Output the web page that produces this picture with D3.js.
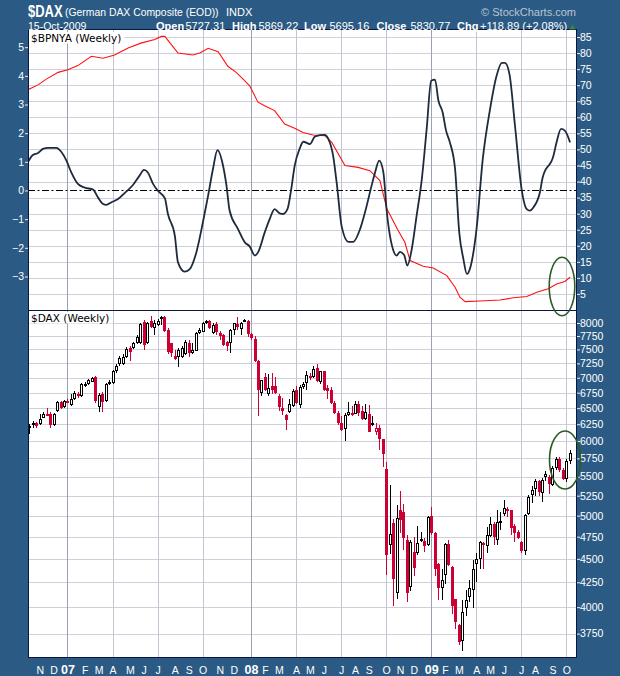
<!DOCTYPE html>
<html><head><meta charset="utf-8">
<script src="https://cdn.jsdelivr.net/npm/d3@7"></script>
<style>html,body{margin:0;padding:0;background:#2b5b84;} svg{display:block;}</style>
</head><body>
<svg id="c" width="620" height="676"></svg>
<script>
// ---------- DATA ----------
const firstWeek = new Date(2006, 9, 16); // Monday of first weekly bar
const opens = [6195,6235,6265,6260,6350,6410,6415,6235,6455,6595,
 6510,6620,6545,6640,6735,6695,6870,6890,6935,7010,
 6510,6730,6610,6915,6915,7110,7230,7240,7370,7530,
 7520,7620,7625,8025,7620,8045,7895,7960,8125,8115,
 7865,7625,7385,7370,7370,7420,7620,7435,7480,7800,
 7830,8005,8045,7800,7980,7815,7770,7640,7625,7865,
 7975,7880,8060,8040,7790,7690,7300,6745,7020,6735,
 6860,6860,6700,6500,6385,6440,6530,6800,6545,6840,
 6910,7035,7020,7165,6930,7110,6830,6800,6580,6425,
 6270,6180,6385,6430,6410,6570,6450,6325,6400,6265,
 6135,6200,6025,5600,4660,4910,4145,5075,5040,4710,
 4200,4575,4570,4725,4700,4660,5000,4790,4440,4190,
 4330,4665,4410,4080,3830,3680,3990,4100,4175,4440,
 4500,4655,4640,4760,4900,4715,4940,5015,5085,5065,
 4870,4800,4690,4585,5020,5265,5330,5445,5290,5490,
 5490,5390,5610,5740,5590,5470,5715];
const highs = [6260,6300,6280,6410,6440,6500,6440,6430,6620,6620,
 6630,6640,6720,6780,6760,6910,6930,6985,7020,7036,
 6745,6760,6915,6965,7130,7230,7390,7410,7550,7560,
 7640,7760,8005,8060,8025,8140,8060,8070,8140,8130,
 7900,7625,7490,7525,7560,7675,7675,7620,7830,7900,
 8025,8060,8060,7995,8025,7850,7790,7660,7880,8000,
 8120,8025,8075,8050,7805,7750,7310,6965,7080,7070,
 7080,7020,6720,6670,6400,6640,6815,6860,6880,6930,
 7110,7080,7200,7230,7120,7120,6880,6840,6610,6450,
 6380,6430,6590,6535,6620,6610,6535,6560,6545,6380,
 6265,6240,6030,5700,5390,4960,5130,5315,5150,4765,
 4710,4745,4875,4805,4730,5000,5110,4805,4450,4385,
 4680,4715,4420,4085,3835,4070,4175,4275,4490,4570,
 4695,4690,4865,4985,4920,5075,5045,5200,5110,5070,
 4905,4830,4700,5015,5260,5370,5465,5450,5480,5580,
 5515,5640,5770,5770,5620,5740,5869];
const lows = [6100,6200,6195,6240,6340,6375,6200,6225,6440,6480,
 6505,6580,6530,6630,6670,6680,6850,6880,6925,6580,
 6440,6440,6600,6880,6900,7090,7210,7220,7350,7300,
 7500,7600,7600,7490,7600,7900,7770,7940,7960,7830,
 7420,7370,7310,7190,7350,7400,7370,7420,7470,7780,
 7820,7990,7880,7780,7770,7675,7555,7470,7440,7770,
 7865,7770,8010,7735,7675,7280,6380,6690,6780,6690,
 6720,6720,6460,6390,6160,6430,6520,6560,6505,6810,
 6800,6965,7000,6920,6900,6775,6640,6560,6410,6240,
 6150,6000,6370,6370,6400,6370,6310,6310,6125,6230,
 6090,5870,5630,4330,4555,4010,4085,4790,4600,4050,
 4165,4315,4545,4690,4575,4640,4770,4315,4070,4070,
 4230,4420,3930,3790,3645,3595,3910,4055,3995,4250,
 4395,4390,4560,4745,4660,4660,4830,5000,4990,4775,
 4690,4720,4570,4545,5010,5160,5240,5240,5170,5440,
 5270,5370,5590,5560,5450,5430,5670];
const closes = [6230,6275,6230,6330,6410,6390,6245,6410,6600,6500,
 6615,6595,6640,6750,6690,6890,6900,6960,6995,6610,
 6715,6590,6900,6935,7110,7200,7350,7370,7510,7460,
 7615,7740,7980,7585,7995,7925,7995,8045,8095,7850,
 7445,7440,7325,7490,7525,7640,7430,7490,7800,7865,
 8005,8045,7895,7960,7830,7750,7585,7570,7865,7995,
 7925,7995,8030,7790,7710,7300,6800,6965,6800,6830,
 6800,6750,6520,6460,6320,6570,6775,6575,6840,6900,
 7050,7000,7150,6940,7110,6800,6775,6580,6425,6270,
 6160,6385,6440,6385,6570,6425,6325,6440,6135,6245,
 6200,6025,5810,4545,4780,4285,4975,4945,4735,4145,
 4690,4400,4675,4705,4640,4985,4790,4385,4195,4270,
 4670,4430,4010,3855,3675,3955,4070,4195,4385,4500,
 4685,4680,4775,4900,4745,4920,4925,5090,5065,4850,
 4790,4730,4590,5010,5230,5320,5440,5300,5460,5530,
 5400,5615,5740,5585,5470,5715,5830];

// oscillator (left axis) vertices: week index / value
const oscWeeks = [-0.4,1.0,2.5,3.9,5.4,7.8,9.2,10.7,12.1,14.0,16.0,18.4,19.8,21.3,22.2,23.7,25.6,27.5,29.9,31.8,33.1,34.2,35.7,37.1,39.1,40.0,42.0,42.9,44.8,46.3,48.2,50.1,51.6,53.0,54.3,55.9,56.9,57.8,60.2,62.2,63.6,65.1,66.0,67.9,69.4,70.8,72.3,73.2,74.5,75.6,76.6,78.0,79.1,81.0,82.5,85.3,86.3,87.7,88.7,90.2,92.1,93.5,95.5,96.9,98.8,99.8,101.0,102.2,103.2,105.1,106.0,107.0,108.2,109.1,110.4,111.8,113.3,114.7,116.0,117.1,118.1,119.3,120.3,121.4,122.9,124.1,125.3,126.3,127.4,129.1,130.9,133.0,134.9,136.4,137.3,138.6,140.2,142.1,143.6,144.5,145.5,147.4,148.2,151.3,152.2,153.5,154.6,156.1];
const oscValues = [1.00,1.24,1.31,1.45,1.49,1.49,1.35,1.04,0.63,0.23,0.10,0.03,-0.24,-0.47,-0.50,-0.41,-0.30,-0.09,0.19,0.52,0.72,0.63,0.23,-0.01,-0.27,-0.82,-1.58,-2.51,-2.83,-2.74,-2.16,-1.11,-0.18,0.75,1.41,0.87,0.17,-0.70,-1.34,-1.81,-1.95,-2.27,-2.16,-1.48,-0.99,-0.65,-0.80,-0.82,-0.65,0.05,0.87,1.45,1.70,1.62,1.89,1.94,1.80,1.21,0.29,-1.28,-1.79,-1.79,-1.34,-0.76,0.17,0.63,1.04,0.63,-0.76,-2.10,-2.27,-2.14,-2.25,-2.62,-2.04,-0.88,0.40,2.15,3.83,3.87,3.13,2.73,2.09,1.68,0.75,-1.46,-2.39,-2.91,-2.64,-1.34,1.10,2.84,4.01,4.45,4.45,4.06,2.26,0.05,-0.65,-0.70,-0.59,-0.06,0.46,1.21,1.68,2.15,2.09,1.68];

// $BPNYA line (right axis) vertices: week index / value
const bpWeeks = [-0.4,2.5,4.9,8.3,11.1,14.0,17.9,21.3,24.6,28.5,32.2,36.2,38.1,39.1,42.9,47.2,49.2,51.6,54.5,57.3,59.7,61.7,63.6,66.0,67.9,70.8,73.7,76.6,79.0,81.9,85.3,87.3,91.1,94.9,98.3,101.2,103.2,106.5,108.4,109.9,113.7,116.6,120.5,122.9,124.3,125.8,130.1,135.9,139.7,143.6,146.5,149.8,152.2,154.6,156.1];
const bpValues = [68.6,70.1,71.9,74.0,74.8,76.1,79.0,78.4,79.4,81.6,83.1,84.2,85.2,85.2,80.0,79.4,80.0,81.5,80.4,75.9,74.0,71.9,69.8,64.7,63.6,62.1,57.9,56.6,55.3,54.5,54.3,52.2,45.0,44.4,43.4,40.3,31.5,24.7,21.1,15.4,13.6,13.1,10.7,7.1,4.0,2.6,2.8,3.1,3.8,4.2,5.5,6.6,8.1,8.9,10.2];

const leftTicks = [5,4,3,2,1,0,-1,-2,-3];
const rightTicks = [5,10,15,20,25,30,35,40,45,50,55,60,65,70,75,80,85];
const priceTicks = [3750,4000,4250,4500,4750,5000,5250,5500,5750,6000,6250,6500,6750,7000,7250,7500,7750,8000];
const monthLetters = ["J","F","M","A","M","J","J","A","S","O","N","D"];

// ---------- LAYOUT ----------
const L = 28, R = 577, T1 = 29, B1 = 310, B2 = 657.7;
const svg = d3.select("#c");
svg.append("rect").attr("width",620).attr("height",676).attr("fill","#2b5b84");

const x = d3.scaleLinear().domain([-0.4, 158.1]).range([L, R]);
const yL = d3.scaleLinear().domain([-4.17, 5.635]).range([B1, T1]);
const yR = d3.scaleLinear().domain([0, 87.5]).range([B1, T1]);
const yP = d3.scaleLog().domain([3536, 8258]).range([B2, B1]);

const weekDates = closes.map((_, i) => d3.timeDay.offset(firstWeek, 7 * i));
const monthStarts = [];
weekDates.forEach((d, i) => { if (i > 0 && d.getMonth() !== weekDates[i-1].getMonth()) monthStarts.push({i, d}); });

svg.append("rect").attr("x",L).attr("y",T1).attr("width",R-L).attr("height",B2-T1).attr("fill","#fff");

const grid = svg.append("g").attr("shape-rendering","crispEdges");
grid.selectAll(".gt").data(rightTicks).join("line")
  .attr("x1",L).attr("x2",R).attr("y1",d=>Math.round(yR(d))+0.5).attr("y2",d=>Math.round(yR(d))+0.5)
  .attr("stroke","#cfd0dc").attr("stroke-width",1);
grid.selectAll(".gb").data(priceTicks).join("line")
  .attr("x1",L).attr("x2",R).attr("y1",d=>Math.round(yP(d))+0.5).attr("y2",d=>Math.round(yP(d))+0.5)
  .attr("stroke","#cfd0dc").attr("stroke-width",1);
grid.selectAll(".gv").data(monthStarts.filter(m => m.d.getMonth() % 3 === 0)).join("line")
  .attr("x1",m=>Math.round(x(m.i))+0.5).attr("x2",m=>Math.round(x(m.i))+0.5)
  .attr("y1",T1).attr("y2",B2)
  .attr("stroke",m=>m.d.getMonth()===0 ? "#98a2b2" : "#c2c4d2").attr("stroke-width",1);

svg.append("line").attr("x1",L).attr("x2",R).attr("y1",Math.round(yL(0))+0.5).attr("y2",Math.round(yL(0))+0.5)
  .attr("stroke","#000").attr("stroke-width",1).attr("stroke-dasharray","7,2.5,2,2.5");

svg.append("clipPath").attr("id","clipTop").append("rect").attr("x",L).attr("y",T1).attr("width",R-L).attr("height",B1-T1);

const topG = svg.append("g").attr("clip-path","url(#clipTop)");
const bpData = bpWeeks.map((w,i)=>({w, v: bpValues[i]}));
const oscData = oscWeeks.map((w,i)=>({w, v: oscValues[i]}));
topG.append("path").datum(bpData)
  .attr("d", d3.line().x(d=>x(d.w)).y(d=>yR(d.v)))
  .attr("fill","none").attr("stroke","#ff1010").attr("stroke-width",1.1);
topG.append("path").datum(oscData)
  .attr("d", d3.line().x(d=>x(d.w)).y(d=>yL(d.v)).curve(d3.curveMonotoneX))
  .attr("fill","none").attr("stroke","#1e2b3c").attr("stroke-width",1.8);

// candles
const RED = "#cc0033";
const cg = svg.append("g").attr("shape-rendering","crispEdges");
closes.forEach((c, i) => {
  const o = opens[i], h = highs[i], l = lows[i];
  const prev = i > 0 ? closes[i-1] : o;
  const col = c < prev ? RED : "#000";
  const cx = Math.round(x(i));
  const yTop = yP(Math.max(o,c)), yBot = yP(Math.min(o,c));
  const bt = Math.round(yTop), bb = Math.max(Math.round(yBot), bt + 1);
  if (c > o) {
    cg.append("line").attr("x1",cx+0.5).attr("x2",cx+0.5).attr("y1",Math.round(yP(h))).attr("y2",bt).attr("stroke",col);
    cg.append("line").attr("x1",cx+0.5).attr("x2",cx+0.5).attr("y1",bb).attr("y2",Math.round(yP(l))).attr("stroke",col);
    cg.append("rect").attr("x",cx-0.5).attr("y",bt+0.5).attr("width",2).attr("height",Math.max(bb-bt-1,1))
      .attr("fill","#fff").attr("stroke",col).attr("stroke-width",1);
  } else {
    cg.append("line").attr("x1",cx+0.5).attr("x2",cx+0.5).attr("y1",Math.round(yP(h))).attr("y2",Math.round(yP(l))).attr("stroke",col);
    cg.append("rect").attr("x",cx-1).attr("y",bt).attr("width",3).attr("height",Math.max(bb-bt,2)).attr("fill",col);
  }
});

// panel labels
function panelLabel(txt, yb) {
  const t = svg.append("text").attr("x",31).attr("y",yb).attr("font-family","DejaVu Sans")
    .attr("font-size",10.5).attr("fill","#000").text(txt);
  const bb = t.node().getBBox();
  svg.insert("rect", () => t.node()).attr("x",L+1).attr("y",yb-9.5).attr("width",bb.width+5).attr("height",11.5).attr("fill","#fff");
}
panelLabel("$BPNYA (Weekly)", 41.5);
panelLabel("$DAX (Weekly)", 321.5);

// frames
const fr = svg.append("g").attr("shape-rendering","crispEdges").attr("fill","none").attr("stroke","#0b1640");
fr.append("rect").attr("x",L+0.5).attr("y",T1+0.5).attr("width",R-L-1).attr("height",B2-T1-1);
fr.append("line").attr("x1",L).attr("x2",R).attr("y1",B1+0.5).attr("y2",B1+0.5);

// axes
function styleAxis(g) {
  g.select(".domain").remove();
  g.selectAll("line").attr("stroke","#e8eef4");
  g.selectAll("text").attr("fill","#fff").attr("font-family","Liberation Sans, Arial").attr("font-size",10.5);
}
svg.append("g").attr("transform",`translate(${L},0)`)
  .call(d3.axisLeft(yL).tickValues(leftTicks).tickSize(3).tickPadding(1).tickFormat(d3.format("d")))
  .call(styleAxis);
svg.append("g").attr("transform",`translate(${R},0)`)
  .call(d3.axisRight(yR).tickValues(rightTicks).tickSize(3).tickPadding(0).tickFormat(d3.format("d")))
  .call(styleAxis);
svg.append("g").attr("transform",`translate(${R},0)`)
  .call(d3.axisRight(yP).tickValues(priceTicks).tickSize(3).tickPadding(0).tickFormat(d3.format("d")))
  .call(styleAxis);

// month labels
svg.append("g").selectAll("text").data(monthStarts).join("text")
  .attr("x", m => x(m.i) + 0.5).attr("y", 673.5).attr("text-anchor","middle")
  .attr("font-family","Liberation Sans, Arial")
  .attr("font-size", m => m.d.getMonth()===0 ? 12.5 : 10.5)
  .attr("font-weight", m => m.d.getMonth()===0 ? "bold" : "normal")
  .attr("fill","#fff")
  .text(m => m.d.getMonth()===0 ? d3.timeFormat("%y")(m.d) : monthLetters[m.d.getMonth()]);

// header
const hf = "Liberation Sans, Arial";
svg.append("text").attr("transform","translate(28,17) scale(1,1.2)").attr("font-family",hf).attr("font-weight","bold").attr("font-size",13)
  .attr("fill","#fff").text("$DAX");
svg.append("text").attr("x",65).attr("y",16).attr("font-family",hf).attr("font-size",10.4)
  .attr("fill","#fff").text("(German DAX Composite (EOD))");
svg.append("text").attr("x",226).attr("y",16).attr("font-family",hf).attr("font-size",11)
  .attr("fill","#fff").text("INDX");
svg.append("text").attr("x",576).attr("y",16).attr("text-anchor","end").attr("font-family",hf).attr("font-size",11)
  .attr("fill","#b9c6d3").text("\u00A9 StockCharts.com");
svg.append("text").attr("x",28).attr("y",29.5).attr("font-family",hf).attr("font-size",10.5)
  .attr("fill","#fff").text("15-Oct-2009");
const quote = [
  {x:156, t:"Open", b:true}, {x:185.5, t:"5727.31"},
  {x:232, t:"High", b:true}, {x:258.5, t:"5869.22"},
  {x:304, t:"Low", b:true}, {x:329.5, t:"5695.16"},
  {x:376.5, t:"Close", b:true}, {x:410.5, t:"5830.77"},
  {x:457, t:"Chg", b:true}, {x:480, t:"+118.89 (+2.08%)"}
];
svg.append("g").selectAll("text").data(quote).join("text")
  .attr("x",d=>d.x).attr("y",29.5).attr("font-family",hf).attr("font-size",11)
  .attr("font-weight",d=>d.b?"bold":"normal").attr("fill","#fff").text(d=>d.t);
svg.append("path").attr("d","M569.5,29.5 L575.5,29.5 L572.5,24.5 Z").attr("fill","#2e8b3a");

// annotation ellipses
svg.append("ellipse").attr("cx",562).attr("cy",286.5).attr("rx",12.8).attr("ry",29.3)
  .attr("fill","none").attr("stroke","#2d5a27").attr("stroke-width",1.6);
svg.append("ellipse").attr("cx",565).attr("cy",460).attr("rx",15.5).attr("ry",29)
  .attr("fill","none").attr("stroke","#2d5a27").attr("stroke-width",1.6);
</script>
</body></html>
